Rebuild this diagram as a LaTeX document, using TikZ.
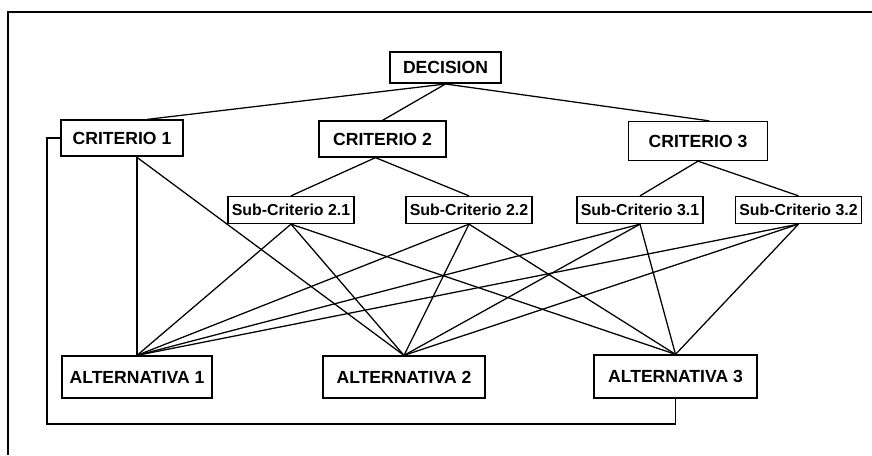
\documentclass[tikz,border=0pt]{standalone}
\usepackage{fontspec}
\setmainfont{Liberation Sans}
\usepackage{tikz}

\begin{document}
\begin{tikzpicture}[x=0.025cm,y=-0.025cm,line width=0.9pt,
    box/.style={draw,rectangle,inner sep=0pt,font=\fontsize{12.5}{14}\selectfont\bfseries},
    subbox/.style={box,minimum width=3.15cm,minimum height=0.675cm,font=\fontsize{11.3}{13}\selectfont\bfseries}]
      \useasboundingbox (0,0) rectangle (872,455);
      \draw (872,12) -- (8,12) -- (8,455);
      \node[box,line width=1.4pt,minimum width=2.775cm,minimum height=0.775cm] (dec) at (445.5,67.5) {DECISION};
      \node[box,minimum width=3.05cm,minimum height=0.9cm] (c1) at (122,138) {CRITERIO 1};
      \node[box,minimum width=3.175cm,minimum height=0.9cm] (c2) at (382.5,139) {CRITERIO 2};
      \node[box,minimum width=3.475cm,minimum height=0.975cm] (c3) at (698,141) {CRITERIO 3};
      \node[subbox] (s21) at (291,210) {Sub-Criterio 2.1};
      \node[subbox] (s22) at (469,210) {Sub-Criterio 2.2};
      \node[subbox] (s31) at (640,210) {Sub-Criterio 3.1};
      \node[subbox] (s32) at (798.5,210) {Sub-Criterio 3.2};
      \node[box,minimum width=3.75cm,minimum height=1.05cm] (a1) at (137,377) {ALTERNATIVA 1};
      \node[box,minimum width=4.05cm,minimum height=1.05cm] (a2) at (404,377) {ALTERNATIVA 2};
      \node[box,minimum width=4.075cm,minimum height=1.075cm] (a3) at (675.5,376.5) {ALTERNATIVA 3};
      \coordinate (loop) at (47,424);
      \draw (dec.south) -- ([xshift=18pt]c1.north);
      \draw (dec.south) -- (c2.north);
      \draw (dec.south) -- ([xshift=8pt]c3.north);
      \draw ([xshift=-5pt]c2.south) -- (s21.north);
      \draw ([xshift=-5pt]c2.south) -- (s22.north);
      \draw (c3.south) -- (s31.north);
      \draw (c3.south) -- (s32.north);
      \draw (a1.north) -- (a1.north |- c1.south);
      \draw ([xshift=10pt]c1.south) -- (a2.north);
      \draw (c1.west) -| (loop) -| (a3.south);
      \foreach \s in {s21,s22,s31,s32}
        \foreach \a in {a1,a2,a3}
          \draw (\s.south) -- (\a.north);
    \end{tikzpicture}
\end{document}
